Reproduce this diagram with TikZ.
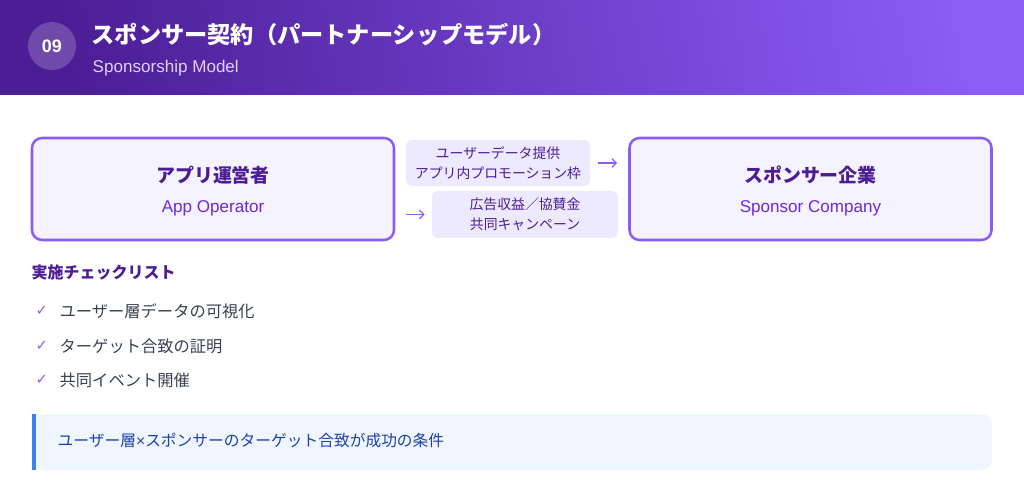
\documentclass[tikz,border=0pt]{standalone}
\usepackage{fontspec}
\setmainfont{Noto Sans CJK JP}
\newfontfamily\symfont{DejaVu Sans}
\newfontfamily\latfont{Liberation Sans}
\usetikzlibrary{calc,arrows.meta}

\definecolor{hdleft}{HTML}{4C1D95}
\definecolor{hdright}{HTML}{8B5CF6}
\definecolor{rand}{HTML}{8B5CF6}
\definecolor{boxfill}{HTML}{F5F3FF}
\definecolor{labfill}{HTML}{EDE9FE}
\definecolor{dunkel}{HTML}{4C1D95}
\definecolor{mittel}{HTML}{6D28D9}
\definecolor{grau}{HTML}{374151}
\definecolor{hinfill}{HTML}{EFF6FF}
\definecolor{hinbar}{HTML}{3B82F6}
\definecolor{hintext}{HTML}{1E40AF}

\begin{document}
\begin{tikzpicture}[x=0.75pt,y=-0.75pt,
    >=Straight Barb, % Voreinstellung fuer Pfeilspitzen
    Partei/.style={draw=rand,line width=1.9pt,fill=boxfill,rounded corners=7.5pt,
        minimum width=271.5pt,minimum height=76.5pt,inner sep=0pt},
    Leistung/.style={fill=labfill,rounded corners=4pt,inner sep=0pt,align=center,
        text=dunkel,font=\fontsize{10.4pt}{15pt}\selectfont},
    Name/.style={text=dunkel,font=\fontsize{14.2pt}{17pt}\selectfont\bfseries},
    Rolle/.style={text=mittel,font=\fontsize{12.8pt}{15pt}\latfont},
    Punkt/.style={anchor=west,text=grau,font=\fontsize{12.2pt}{15pt}\selectfont},
    Haken/.style={anchor=west,text=rand,font=\fontsize{11pt}{12pt}\symfont},
    Pfeil/.style={draw=rand,line width=0.9pt,->}
    ]
    \useasboundingbox (0,0) rectangle (1024,492);

    % Kopfzeile
    \shade[left color=hdleft,right color=hdright,shading angle=100] (0,0) rectangle (1024,95);
    \node[circle,fill=white,fill opacity=0.2,text opacity=1,minimum size=36pt,inner sep=0pt,
        text=white,font=\fontsize{13.5pt}{15pt}\latfont\bfseries] (nr) at (52,46) {09};
    \node[anchor=west,text=white,font=\fontsize{17.4pt}{20pt}\selectfont\bfseries]
        (titel) at (87,35) {スポンサー契約（パートナーシップモデル）};
    \node[anchor=west,text=white!72!hdright,font=\fontsize{12.8pt}{15pt}\latfont]
        (untertitel) at (88,68) {Sponsorship Model};

    % Parteien
    \node[Partei] (op) at (213,189) {};
    \node[Name] (opname) at (213,175) {アプリ運営者};
    \node[Rolle] (oprolle) at (213,208) {App Operator};

    \node[Partei] (sp) at (810.5,189) {};
    \node[Name] (spname) at (810.5,175) {スポンサー企業};
    \node[Rolle] (sprolle) at (810.5,208) {Sponsor Company};

    % Leistungen
    \node[Leistung,minimum width=138pt,minimum height=34.5pt] (hin) at (498,163)
        {ユーザーデータ提供\\アプリ内プロモーション枠};
    \node[Leistung,minimum width=139.5pt,minimum height=35pt] (rueck) at (525,214.5)
        {広告収益／協賛金\\共同キャンペーン};

    \draw[Pfeil,shorten <=6pt,shorten >=8.3pt] (hin.east) -- (hin.east -| sp.west);
    \draw[Pfeil,shorten <=8.3pt,shorten >=5.3pt] (op.east |- rueck.west) -- (rueck.west);

    % Checkliste
    \node[anchor=west,text=dunkel,font=\fontsize{12pt}{15pt}\selectfont\bfseries]
        (liste) at (27,272) {実施チェックリスト};
    \foreach \y/\txt [count=\i] in {311/ユーザー層データの可視化,
                                    346/ターゲット合致の証明,
                                    380/共同イベント開催}{
        \node[Haken] (haken\i) at (31,\y) {✓};
        \node[Punkt] (punkt\i) at (55,\y) {\txt};
    }

    % Hinweis
    \fill[hinfill,rounded corners=7.5pt] (32,414) rectangle (992,470);
    \fill[hinbar] (32,414) rectangle (36,470);
    \node[anchor=west,text=hintext,font=\fontsize{11.8pt}{14pt}\selectfont]
        (hinweis) at (53,441) {ユーザー層{\latfont ×}スポンサーのターゲット合致が成功の条件};
\end{tikzpicture}
\end{document}
